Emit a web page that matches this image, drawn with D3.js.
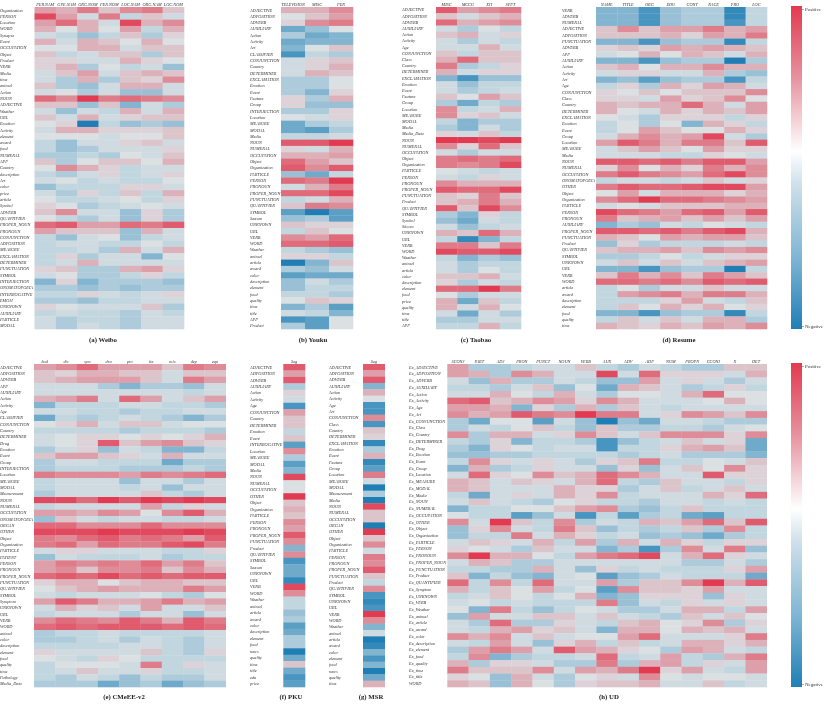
<!DOCTYPE html>
<html lang="en">
<head>
<meta charset="UTF-8">
<title>Entity type and feature correlation heatmaps</title>
<script src="https://d3js.org/d3.v7.min.js"></script>
<style>
  html, body { margin: 0; padding: 0; background: #fff; }
  svg { display: block; filter: blur(0.3px); }
  text { font-family: "Liberation Serif", serif; }
</style>
</head>
<body>
<svg id="chart" width="830" height="705"></svg>
<script>

const weiboCols = ["PER.NAM", "GPE.NAM", "ORG.NOM", "PER.NOM", "LOC.NAM", "ORG.NAM", "LOC.NOM"];
const weiboRows = ["Organization", "PERSON", "Location", "WORD", "Synapse", "Event", "OCCUPATION", "Object", "Product", "VERB", "Media", "time", "animal", "Action", "NOUN", "ADJECTIVE", "Weather", "URL", "Emotion", "Activity", "element", "award", "food", "NUMERAL", "APP", "Country", "description", "Art", "color", "price", "article", "Symbol", "ADVERB", "QUANTIFIER", "PROPER_NOUN", "PRONOUN", "CONJUNCTION", "ADPOSITION", "MEASURE", "EXCLAMATION", "DETERMINER", "PUNCTUATION", "SYMBOL", "INTERJECTION", "ONOMATOPOEIA", "INTERROGATIVE", "EMOJI", "UNKNOWN", "AUXILIARY", "PARTICLE", "MODAL"];
const weiboValues = [
  [4,3,6,2,5,6,2],[9,4,-1,6,-2,2,-1],[4,7,3,-1,9,3,5],[3,0,3,0,4,-2,3],[-1,-2,-4,-2,2,-3,1],[3,-1,3,2,0,3,0],
  [0,0,3,3,-1,2,2],[2,-2,-1,2,2,-3,2],[1,1,-1,-1,3,1,0],[1,3,-3,0,-2,-1,-4],[-1,2,4,-1,2,3,2],[-1,-3,3,-3,2,1,5],
  [2,-3,-4,-1,3,3,-1],[-1,0,-3,-1,-4,-4,-1],[7,5,10,6,7,6,5],[2,2,-4,2,-5,-1,-3],[-1,-4,-1,-2,3,-1,3],[2,-1,3,-1,1,2,2],
  [0,1,-10,-2,-4,-3,-4],[-1,3,3,1,1,1,2],[0,0,0,-1,0,0,2],[-2,-4,-1,-1,1,2,-1],[-2,-4,-3,-1,-1,-1,1],[-3,-3,-2,-3,0,-1,2],
  [2,-3,0,2,2,0,3],[0,5,3,1,-2,-1,-1],[-2,-3,-1,1,-2,-1,1],[-1,0,-2,-1,-2,-2,0],[-4,-2,-2,-2,1,1,-1],[-1,-3,1,-2,2,-2,3],
  [0,-2,-2,-1,0,-2,1],[1,0,-3,-2,-1,0,-1],[2,5,-1,-1,-4,1,-3],[0,-2,-3,-1,-4,1,-3],[7,8,4,4,7,6,8],[4,2,2,2,-4,3,-1],
  [-2,-4,-1,0,-4,-2,-1],[-2,-1,-1,-2,-2,0,-2],[-2,-2,-1,-3,3,-1,3],[-2,1,-3,-1,-1,-5,0],[-2,-1,3,-1,-1,-1,-1],[1,2,-3,-3,3,4,1],
  [-1,0,-3,-3,-2,1,-2],[-5,1,-5,-3,-3,-3,-4],[-3,-3,-4,-3,-4,-3,-3],[-2,-2,1,-1,-2,-1,1],[-3,-3,-4,-2,-2,-1,-1],[1,0,-1,-1,-1,2,-3],
  [-2,-1,-2,-2,-3,-1,-2],[-1,-3,-2,-2,-3,-1,-1],[-1,-3,-1,-2,-3,-1,-1]
];

const youkuCols = ["TELEVISION", "MISC", "PER"];
const youkuRows = ["ADJECTIVE", "ADPOSITION", "ADVERB", "AUXILIARY", "Action", "Activity", "Art", "CLASSIFIER", "CONJUNCTION", "Country", "DETERMINER", "EXCLAMATION", "Emotion", "Event", "Feature", "Group", "INTERJECTION", "Location", "MEASURE", "MODAL", "Media", "NOUN", "NUMERAL", "OCCUPATION", "Object", "Organization", "PARTICLE", "PERSON", "PRONOUN", "PROPER_NOUN", "PUNCTUATION", "QUANTIFIER", "SYMBOL", "Season", "UNKNOWN", "URL", "VERB", "WORD", "Weather", "animal", "article", "award", "color", "description", "element", "food", "quality", "time", "title", "APP", "Product"];
const youkuValues = [
  [3,3,5],[0,2,4],[1,5,6],[-6,-4,0],[-3,-6,-5],[-6,-5,-5],[-5,0,2],[-8,-2,-3],[-1,1,2],[-1,1,3],[-1,3,2],[-3,-3,0],[-3,-3,0],
  [-3,-5,1],[1,-3,3],[1,-4,-4],[-3,-3,1],[0,-1,1],[-6,-3,-2],[-6,-7,-3],[-2,-2,-1],[8,8,10],[1,-1,3],[3,3,4],[7,4,2],[8,5,8],
  [-4,-6,-2],[7,6,10],[-1,3,6],[7,7,9],[-2,-1,3],[2,6,5],[-7,-10,-7],[-4,-3,-7],[2,1,1],[-2,2,0],[5,4,7],[7,7,8],[-2,-3,-4],
  [1,1,-2],[-10,-5,2],[-3,-4,-1],[-7,-6,-6],[-4,-1,-3],[-4,-2,-2],[-2,-2,-3],[0,2,1],[-5,-3,-7],[-1,-2,-5],[-8,-7,0],[-3,-7,0]
];

const taobaoCols = ["MISC", "MCCU", "XH", "SPPT"];
const taobaoRows = ["ADJECTIVE", "ADPOSITION", "ADVERB", "AUXILIARY", "Action", "Activity", "Age", "CONJUNCTION", "Class", "Country", "DETERMINER", "EXCLAMATION", "Emotion", "Event", "Feature", "Group", "Location", "MEASURE", "MODAL", "Media", "Media_Data", "NOUN", "NUMERAL", "OCCUPATION", "Object", "Organization", "PARTICLE", "PERSON", "PRONOUN", "PROPER_NOUN", "PUNCTUATION", "Product", "QUANTIFIER", "SYMBOL", "Symbol", "Sitcom", "UNKNOWN", "URL", "VERB", "WORD", "Weather", "animal", "article", "color", "description", "element", "food", "price", "quality", "time", "title", "APP"];
const taobaoValues = [
  [8,4,5,6],[2,-1,2,3],[7,3,4,5],[-1,-3,0,-2],[2,3,-1,1],[-1,-3,-1,-2],[-1,-1,3,-1],[2,-2,2,2],[3,7,2,2],[6,-3,-2,1],[3,-1,1,1],
  [-5,-8,-4,-4],[-1,-4,-2,-2],[-1,-3,-2,-1],[2,0,4,2],[-3,-6,-2,-3],[5,-2,-1,3],[5,1,2,-1],[-2,-5,-3,-3],[-3,-5,-1,-3],[1,-1,2,-2],
  [10,10,9,10],[5,1,7,2],[-1,-3,-1,-1],[6,7,6,7],[6,5,6,9],[0,-1,-2,-1],[-1,-2,1,-1],[5,3,3,3],[8,7,7,9],[2,1,6,2],[2,3,6,3],
  [8,2,9,5],[-3,-5,1,-2],[-4,-6,-1,-2],[-1,-4,-2,-1],[3,2,7,3],[-2,-9,-5,-2],[6,6,2,6],[9,8,8,9],[-2,-5,-3,-4],[-1,-3,-2,-2],
  [-1,-3,0,-2],[2,2,3,-1],[1,-3,-1,-2],[7,7,10,6],[0,-3,-1,-1],[3,-6,2,-2],[3,-1,3,0],[-1,-6,-1,-3],[-3,-3,-1,-1],[-2,-2,3,-2]
];

const resumeCols = ["NAME", "TITLE", "ORG", "EDU", "CONT", "RACE", "PRO", "LOC"];
const resumeRows = ["VERB", "ADVERB", "NUMERAL", "ADJECTIVE", "ADPOSITION", "PUNCTUATION", "ADVERB ", "APP", "AUXILIARY", "Action", "Activity", "Art", "Age", "CONJUNCTION", "Class", "Country", "DETERMINER", "EXCLAMATION", "Emotion", "Event", "Group", "Location", "MEASURE", "Media", "NOUN", "NUMERAL ", "OCCUPATION", "ONOMATOPOEIA", "OTHER", "Object", "Organization", "PARTICLE", "PERSON", "PRONOUN", "AUXILIARY ", "PROPER_NOUN", "PUNCTUATION ", "Product", "QUANTIFIER", "SYMBOL", "UNKNOWN", "URL", "VERB ", "WORD", "article", "award", "description", "element", "food", "quality", "time"];
const resumeValues = [
  [-5,-5,-8,-4,-3,-3,-9,-2],[-5,-5,-8,-4,-3,-3,-9,-2],[-5,-5,-8,-4,-3,-3,-8,-2],[2,5,2,4,4,6,3,4],[2,2,2,3,1,4,3,6],[-5,-5,-8,-4,-3,-3,-9,-2],
  [1,2,1,4,3,4,3,2],[-1,0,3,0,3,2,-1,3],[-5,-5,-8,-4,-3,-3,-10,-3],[2,3,0,3,3,5,3,3],[-1,1,1,-1,-1,3,-3,-4],[-5,-4,-7,-4,-3,-3,-8,-2],
  [-2,1,-3,3,1,4,3,-1],[1,0,2,0,2,2,2,5],[1,1,-1,4,1,2,5,0],[3,2,3,3,7,3,-1,4],[3,0,-1,3,1,3,2,4],[0,-1,-3,1,1,1,-2,1],
  [-2,0,-3,0,-5,3,1,-2],[-2,0,4,2,0,0,3,1],[-1,3,5,3,4,9,-1,-3],[4,8,6,3,6,6,2,8],[-1,2,4,2,0,4,1,1],[-1,-1,-1,-2,-2,1,0,-1],
  [8,8,7,8,6,8,8,4],[1,5,0,3,1,6,3,5],[6,8,6,5,4,7,9,5],[-2,-1,-1,-2,-1,2,-1,1],[6,8,7,7,8,9,9,4],[0,4,-1,3,3,3,1,3],
  [5,7,10,7,7,6,5,4],[-1,0,-1,2,2,2,3,3],[9,7,6,4,7,8,4,8],[6,2,3,4,2,4,2,4],[-5,-3,-4,-1,-2,0,-1,-2],[8,8,7,8,6,8,9,3],
  [3,2,0,4,3,4,4,2],[-4,1,-3,-2,-2,-2,-1,-2],[2,3,3,4,2,5,4,5],[-3,-3,-2,0,-2,-1,1,1],[-1,2,-1,2,-1,2,3,4],[-5,-5,-8,-4,-3,-3,-10,-2],
  [2,6,3,5,2,6,4,2],[7,7,6,7,5,8,7,8],[-2,0,-3,-1,-1,2,-1,-1],[-2,4,5,6,3,6,6,3],[-2,-2,-2,1,4,-1,-2,2],[-2,2,0,3,1,3,0,1],
  [-5,-5,-8,-4,-3,-3,-9,-2],[-2,2,-1,2,-1,3,3,-3],[3,2,1,3,2,4,3,5]
];

const cmeeCols = ["bod", "dis", "sym", "dru", "pro", "ite", "mic", "dep", "equ"];
const cmeeRows = ["ADJECTIVE", "ADPOSITION", "ADVERB", "APP", "AUXILIARY", "Action", "Activity", "Age", "CLASSIFIER", "CONJUNCTION", "Country", "DETERMINER", "Drug", "Emotion", "Event", "Group", "INTERJECTION", "Location", "MEASURE", "MODAL", "Measurement", "NOUN", "NUMERAL", "OCCUPATION", "ONOMATOPOEIA", "ORGAN", "OTHER", "Object", "Organization", "PARTICLE", "PATIENT", "PERSON", "PRONOUN", "PROPER_NOUN", "PUNCTUATION", "QUANTIFIER", "SYMBOL", "Symptom", "UNKNOWN", "URL", "VERB", "WORD", "animal", "color", "description", "element", "food", "quality", "time", "Pathology", "Media_Data"];
const cmeeValues = [
  [4,5,7,4,4,4,2,6,5],[2,1,3,3,2,2,-1,2,2],[2,3,4,4,4,2,-1,6,4],[-1,-1,-1,-3,-5,-3,-3,-4,-1],[-1,-1,-1,-1,-1,-1,-1,-2,-1],[3,4,6,-1,7,4,-1,2,4],
  [-5,-2,-2,-2,-1,-1,-2,-2,-3],[-1,-1,-2,-2,-3,-2,-2,-1,-1],[-6,-2,-3,-2,-1,-2,-3,-5,-3],[0,1,3,-1,2,2,-1,0,0],[-2,-2,-2,-2,-3,-2,-2,-2,-3],[-1,0,1,1,0,1,0,1,3],
  [-1,0,1,8,2,4,5,2,1],[-3,-1,1,-4,-1,-2,-5,-5,-2],[2,4,4,2,1,-1,3,-1,-1],[-3,-1,-1,-2,-2,-2,-6,-3,-3],[-3,-2,-2,-2,-3,-3,-3,-2,-3],[6,5,5,5,4,6,5,6,7],
  [-2,-1,-1,-1,-4,-1,-1,-3,-1],[-2,-1,-1,-1,-2,-1,-4,-1,-1],[-3,-1,-1,-1,-1,2,-2,-3,-1],[9,9,7,10,8,10,9,10,9],[-2,-1,-1,-1,-1,4,-2,1,-1],[4,4,3,5,4,0,5,8,3],
  [-4,2,-1,-2,-1,-1,-2,-2,-1],[7,7,5,5,5,7,5,5,5],[9,9,9,10,9,9,9,10,9],[6,5,7,8,6,7,6,4,8],[6,7,4,7,6,6,8,9,6],[-1,1,1,-1,-1,-1,-2,-2,1],
  [-4,-1,-2,-2,-2,-1,-3,-2,-2],[4,6,5,6,5,7,4,6,2],[4,5,2,5,5,6,2,5,3],[7,8,7,9,7,8,7,8,8],[1,3,3,0,2,3,3,2,2],[0,2,3,4,3,3,3,6,4],
  [-1,-2,-1,-1,-1,0,-2,-3,0],[4,8,6,3,3,4,6,3,4],[-1,3,1,2,-1,4,-1,-1,2],[-2,-1,-1,-1,-3,-1,-1,-4,-1],[5,7,6,5,8,6,3,8,6],[7,8,7,8,8,8,7,8,7],
  [-3,-2,-2,-1,-2,-2,-2,-2,-1],[-3,-3,-2,-1,-3,-1,-2,-3,-1],[-2,-2,-2,-2,-1,-1,-2,-3,-1],[1,-1,-1,-1,-1,2,-2,-3,1],[0,-1,-2,1,0,-2,-2,-2,-2],[-2,0,0,0,-1,6,-2,1,-1],
  [-2,-1,2,-1,-1,1,-2,-2,-1],[-2,-3,-1,-2,-4,-2,-3,-3,-1],[-3,-3,-3,-6,-4,-3,-6,-4,-3]
];

const pkuCols = ["Seg"];
const pkuRows = ["ADJECTIVE", "ADPOSITION", "ADVERB", "AUXILIARY", "Action", "Activity", "Age", "CONJUNCTION", "Country", "DETERMINER", "Emotion", "Event", "INTERROGATIVE", "Location", "MEASURE", "MODAL", "Media", "NOUN", "NUMERAL", "OCCUPATION", "OTHER", "Object", "Organization", "PARTICLE", "PERSON", "PRONOUN", "PROPER_NOUN", "PUNCTUATION", "Product", "QUANTIFIER", "SYMBOL", "Season", "UNKNOWN", "URL", "VERB", "WORD", "Weather", "animal", "article", "award", "color", "description", "element", "food", "news", "quality", "time", "title", "edu", "price"];
const pkuValues = [[8],[4],[8],[-3],[1],[-1],[-8],[4],[2],[2],[-2],[2],[-7],[5],[-3],[-7],[-5],[9],[0],[0],[10],[2],[3],[2],[5],[4],[8],[5],[-5],[5],[-8],[-6],[-6],[-9],[9],[5],[-2],[-2],[-4],[-3],[-7],[-6],[-3],[-3],[-10],[-6],[2],[-6],[-8],[-7]];

const msrCols = ["Seg"];
const msrRows = ["ADJECTIVE", "ADPOSITION", "ADVERB", "AUXILIARY", "Action", "Activity", "Age", "Art", "CONJUNCTION", "Class", "Country", "DETERMINER", "EXCLAMATION", "Emotion", "Event", "Feature", "Group", "Location", "MEASURE", "MODAL", "Measurement", "Media", "NOUN", "NUMERAL", "OCCUPATION", "ORGAN", "OTHER", "Object", "Organization", "PARTICLE", "PERSON", "PRONOUN", "PROPER_NOUN", "PUNCTUATION", "Product", "QUANTIFIER", "SYMBOL", "UNKNOWN", "URL", "VERB", "WORD", "Weather", "animal", "article", "award", "color", "element", "food", "news", "quality", "time"];
const msrValues = [[8],[4],[8],[-5],[3],[0],[-8],[-8],[5],[-8],[2],[1],[-9],[-3],[3],[-9],[-7],[6],[-1],[-10],[-3],[-10],[9],[2],[2],[-10],[10],[2],[5],[-1],[6],[5],[8],[2],[-2],[5],[-8],[-9],[-8],[10],[5],[-5],[-1],[-10],[-9],[-5],[-8],[-5],[-10],[-6],[3]];

const udCols = ["SCONJ", "PART", "ADJ", "PRON", "PUNCT", "NOUN", "VERB", "AUX", "ADV", "ADP", "NUM", "PROPN", "CCONJ", "X", "DET"];
const udRows = ["Ex_ADJECTIVE", "Ex_ADPOSITION", "Ex_ADVERB", "Ex_AUXILIARY", "Ex_Action", "Ex_Activity", "Ex_Age", "Ex_Art", "Ex_CONJUNCTION", "Ex_Class", "Ex_Country", "Ex_DETERMINER", "Ex_Drug", "Ex_Emotion", "Ex_Event", "Ex_Group", "Ex_Location", "Ex_MEASURE", "Ex_MODAL", "Ex_Media", "Ex_NOUN", "Ex_NUMERAL", "Ex_OCCUPATION", "Ex_OTHER", "Ex_Object", "Ex_Organization", "Ex_PARTICLE", "Ex_PERSON", "Ex_PRONOUN", "Ex_PROPER_NOUN", "Ex_PUNCTUATION", "Ex_Product", "Ex_QUANTIFIER", "Ex_Symptom", "Ex_UNKNOWN", "Ex_VERB", "Ex_Weather", "Ex_animal", "Ex_article", "Ex_award", "Ex_color", "Ex_description", "Ex_element", "Ex_food", "Ex_quality", "Ex_time", "Ex_title", "WORD"];
const udValues = [
  [4,-3,-3,-2,-1,-1,2,-2,-3,-1,-2,-3,-3,2,2],[4,3,-3,5,3,-1,-1,9,-1,7,1,1,1,-1,3],[-1,-4,3,-3,-3,-1,-2,-4,-4,4,-1,1,-1,-3,-1],
  [-2,-2,-3,-1,2,-4,0,-6,3,2,-1,-3,-2,1,-2],[-1,-1,3,0,-2,3,-1,-3,0,0,-1,3,7,0,0],[7,8,2,3,5,4,1,5,3,-1,-1,-1,0,3,0],
  [4,4,3,-5,1,-3,3,-3,2,-1,-2,-1,-1,-1,-1],[5,3,4,8,6,5,10,6,6,-1,1,5,4,2,5],[-3,-6,0,0,-7,-1,-4,-10,-4,-6,-1,-1,-2,-3,-3],
  [-3,-1,-2,0,2,-2,-4,2,-3,-3,-2,-2,-3,-1,0],[5,-3,3,3,-1,1,5,2,-1,2,5,5,5,1,5],[-2,-3,1,-5,-2,-2,-3,-8,-4,-2,-1,2,-1,1,-6],
  [-3,-5,1,0,-2,-1,-1,-8,-2,-2,1,3,4,2,-6],[-4,-4,-3,-3,-2,-2,-2,-2,-3,-2,-1,-3,-3,-3,-5],[-2,5,1,-1,1,-1,-3,1,2,6,-2,-2,0,-1,2],
  [-5,3,-3,-2,1,-1,-1,-4,1,-4,-1,2,0,5,1],[-1,7,1,0,5,2,3,7,5,3,-1,-1,8,1,1],[3,2,-1,2,1,-1,3,7,-2,-3,2,-1,-1,-2,1],
  [3,2,-1,-1,-1,3,1,1,-3,-1,2,-2,-1,2,-1],[-2,-6,-1,1,-1,3,1,5,-2,-1,-1,-1,3,1,7],[-1,2,-1,-2,-3,0,1,-2,-2,-3,-1,-1,-2,-1,-2],
  [-5,-2,-2,0,0,2,4,5,-3,-4,-2,2,-2,-2,-2],[0,-2,-2,-7,-4,-1,-8,-2,-7,-3,-2,-6,-7,-2,-2],[5,-1,10,2,-2,5,-3,-1,-2,3,2,4,7,2,8],
  [-4,1,5,-1,-2,6,2,-4,-2,-3,-2,2,-3,5,-2],[-4,-2,-2,6,-1,3,1,-2,-1,-4,-3,-4,-6,-3,-2],[-1,2,1,-1,3,-2,4,-3,3,-1,3,1,-2,1,1],
  [1,0,-1,-3,2,-1,-1,-5,-3,-8,-3,5,-1,6,-4],[5,10,3,3,0,-2,4,6,7,9,-1,3,7,1,-1],[-1,3,2,-3,-3,-1,-1,-1,-1,-1,-1,-3,-3,-1,-3],
  [-2,-2,-3,-3,3,-1,-4,1,-2,-1,-2,-2,-2,1,4],[2,-5,-2,-4,-5,-1,0,-7,-4,-3,-1,-2,-2,-2,-6],[7,-2,5,-2,7,-1,-1,4,-3,2,2,5,10,3,8],
  [3,-2,2,0,4,-2,0,-7,5,2,2,1,4,-1,-1],[-2,-1,2,0,-2,0,3,-5,-4,1,1,1,-4,1,-1],[-1,0,-2,-1,-2,-2,-2,6,-4,-1,-2,1,-1,1,-1],
  [0,-5,6,-2,-4,-2,0,-1,-3,-3,-1,3,3,-2,4],[-4,4,-1,-1,2,2,-1,2,-1,-2,-3,2,-1,2,0],[-1,-3,7,-3,-3,1,-1,-2,2,3,0,1,5,-3,1],
  [-1,-2,3,4,1,2,-1,-5,3,3,0,3,2,3,-1],[5,3,5,-1,2,-1,0,0,4,7,-1,-1,-1,1,6],[-1,-2,4,-1,-4,1,3,-2,2,-2,-1,3,3,1,3],
  [-3,4,6,4,-1,8,4,3,1,0,-3,4,3,-1,-2],[-2,5,-5,-3,-2,-2,-1,7,-2,-1,4,-2,-3,3,6],[3,-3,1,1,-1,-3,-3,6,-3,3,4,-2,1,-1,4],
  [6,2,2,2,5,-1,4,3,6,10,1,4,-1,-2,4],[1,0,-4,3,-1,-3,0,1,-1,5,0,-1,0,0,-1],[3,2,-4,3,0,-3,1,2,2,3,-1,-1,2,-2,-1]
];

const svg = d3.select("#chart");

// cells look muted compared to the colour bar, centre is a light grey
const cellColor = d3.scaleLinear()
  .domain([-10, -5, -2, 0, 2, 5, 10])
  .range(["#1f7fb5", "#84b5d0", "#c2d6df", "#dbe0e3", "#dcc4cb", "#dd8c98", "#e23a50"]);

const panels = [
  {title: "(a) Weibo", cols: weiboCols, rows: weiboRows, values: weiboValues, labelX: 0, x0: 34.5, x1: 184, y0: 7, y1: 329, titleX: 103, titleY: 342},
  {title: "(b) Youku", cols: youkuCols, rows: youkuRows, values: youkuValues, labelX: 250, x0: 281, x1: 353, y0: 7, y1: 329, titleX: 313, titleY: 342},
  {title: "(c) Taobao", cols: taobaoCols, rows: taobaoRows, values: taobaoValues, labelX: 402, x0: 436, x1: 521, y0: 7, y1: 329, titleX: 476, titleY: 342},
  {title: "(d) Resume", cols: resumeCols, rows: resumeRows, values: resumeValues, labelX: 562, x0: 596, x1: 767, y0: 7, y1: 329, titleX: 679, titleY: 342},
  {title: "(e) CMeEE-v2", cols: cmeeCols, rows: cmeeRows, values: cmeeValues, labelX: 0, x0: 34, x1: 225.7, y0: 364, y1: 687, titleX: 124, titleY: 699},
  {title: "(f) PKU", cols: pkuCols, rows: pkuRows, values: pkuValues, labelX: 250, x0: 283.3, x1: 305, y0: 364, y1: 687, titleX: 291, titleY: 699},
  {title: "(g) MSR", cols: msrCols, rows: msrRows, values: msrValues, labelX: 329, x0: 363, x1: 384.7, y0: 364, y1: 687, titleX: 371, titleY: 699},
  {title: "(h) UD", cols: udCols, rows: udRows, values: udValues, labelX: 409, x0: 447.3, x1: 766.7, y0: 364, y1: 687, titleX: 609, titleY: 699}
];

panels.forEach(function (p) {
  const x = d3.scaleBand().domain(p.cols).range([p.x0, p.x1]);
  const y = d3.scaleBand().domain(p.rows).range([p.y0, p.y1]);
  const g = svg.append("g");

  p.values.forEach(function (row, i) {
    g.selectAll(null)
      .data(row)
      .join("rect")
      .attr("x", (d, j) => x(p.cols[j]))
      .attr("y", y(p.rows[i]))
      .attr("width", x.bandwidth() + 0.3)
      .attr("height", y.bandwidth() + 0.3)
      .attr("fill", d => cellColor(d));
  });

  const top = g.append("g")
    .attr("transform", "translate(0," + (p.y0 - 1.5) + ")")
    .call(d3.axisTop(x).tickSize(0).tickPadding(0));
  top.select(".domain").remove();
  top.selectAll("text")
    .attr("font-size", 4.3)
    .attr("font-style", "italic")
    .attr("font-family", "Liberation Serif")
    .attr("fill", "#333");

  const left = g.append("g")
    .attr("transform", "translate(" + p.x0 + ",0)")
    .call(d3.axisLeft(y).tickSize(0));
  left.select(".domain").remove();
  left.selectAll("text")
    .attr("x", p.labelX - p.x0)
    .attr("text-anchor", "start")
    .attr("font-size", 4.3)
    .attr("font-style", "italic")
    .attr("font-family", "Liberation Serif")
    .attr("fill", "#333");

  svg.append("text")
    .attr("x", p.titleX)
    .attr("y", p.titleY)
    .attr("text-anchor", "middle")
    .attr("font-size", 6.8)
    .attr("font-weight", "bold")
    .attr("fill", "#222")
    .text(p.title);
});

// colour bars
const barStops = [
  {offset: "0%", color: "#e23a50"},
  {offset: "22%", color: "#e6919e"},
  {offset: "45%", color: "#ffffff"},
  {offset: "55%", color: "#cfe0ea"},
  {offset: "78%", color: "#7fb5d3"},
  {offset: "100%", color: "#1f7fb5"}
];
const grad = svg.append("defs").append("linearGradient")
  .attr("id", "barGrad")
  .attr("x1", 0).attr("x2", 0).attr("y1", 0).attr("y2", 1);
grad.selectAll("stop")
  .data(barStops)
  .join("stop")
  .attr("offset", d => d.offset)
  .attr("stop-color", d => d.color);

const barLabels = ["Positive", "Negative"];
[[6, 329], [363, 687]].forEach(function (range) {
  svg.append("rect")
    .attr("x", 791).attr("y", range[0])
    .attr("width", 11).attr("height", range[1] - range[0])
    .attr("fill", "url(#barGrad)");
  const scale = d3.scalePoint().domain(barLabels).range([range[0] + 3, range[1] - 3]);
  const axis = svg.append("g")
    .attr("transform", "translate(802,0)")
    .call(d3.axisRight(scale).tickSize(2).tickPadding(1));
  axis.select(".domain").remove();
  axis.selectAll("line").attr("stroke", "#555").attr("stroke-width", 0.5);
  axis.selectAll("text")
    .attr("font-size", 5)
    .attr("font-family", "Liberation Serif")
    .attr("fill", "#333");
});
</script>
</body>
</html>
